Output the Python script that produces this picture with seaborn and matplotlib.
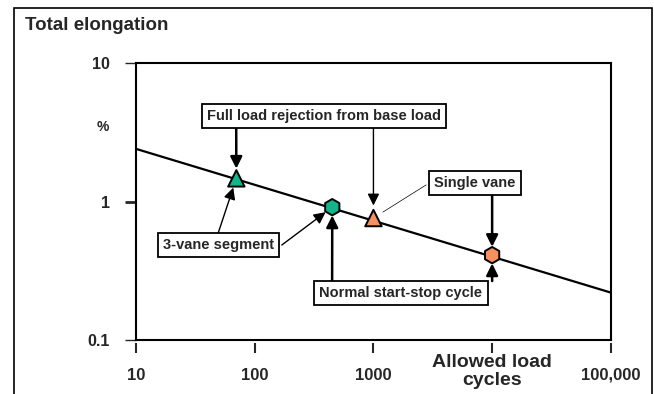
import pandas as pd
import matplotlib.pyplot as plt
import seaborn as sns

# Лінія залежності (кінці) та точки
line_cycles = [10, 100000]
line_elong = [2.4, 0.22]

pt_cycles = [70, 450, 1000, 10000]
pt_elong = [1.47, 0.91, 0.76, 0.41]
pt_shape = ["tri", "hex", "tri", "hex"]
pt_group = ["green", "green", "orange", "orange"]

x_ticks = [10, 100, 1000, 10000, 100000]
x_labels = ["10", "100", "1000", "", "100,000"]
y_ticks = [0.1, 1, 10]
y_labels = ["0.1", "1", "10"]

sns.set_style("white")
plt.rcParams["font.family"] = ["Liberation Sans", "DejaVu Sans"]
plt.rcParams["font.weight"] = "bold"

df_line = pd.DataFrame({"cycles": line_cycles, "elong": line_elong})
df_pts = pd.DataFrame({"cycles": pt_cycles, "elong": pt_elong,
                       "shape": pt_shape, "group": pt_group})

fig = plt.figure(figsize=(6.54, 3.94), dpi=100)
ax = fig.add_axes([0.208, 0.137, 0.726, 0.703])

sns.lineplot(data=df_line, x="cycles", y="elong", color="black", lw=1.6, ax=ax)
sns.scatterplot(data=df_pts, x="cycles", y="elong", hue="group", style="shape",
                palette={"green": "#12B48A", "orange": "#F5915E"},
                markers={"tri": "^", "hex": "h"}, s=140, edgecolor="black",
                linewidth=1.4, legend=False, zorder=5, ax=ax)

ax.set_xscale("log")
ax.set_yscale("log")
ax.set_xlim(10, 100000)
ax.set_ylim(0.1, 10)
ax.set_xlabel("")
ax.set_ylabel("")

for s in ax.spines.values():
    s.set_visible(True)
    s.set_linewidth(1.5)
    s.set_color("black")

ax.set_xticks(x_ticks)
ax.set_xticklabels([])
ax.tick_params(axis="x", which="both", length=0)
ax.minorticks_off()
ax.set_yticks(y_ticks)
ax.set_yticklabels(y_labels, fontsize=11.5, fontweight="bold")
ax.tick_params(axis="y", which="major", length=8, width=1.0, pad=11, left=True)
ax.yaxis.get_major_ticks()[1].tick1line.set_markeredgewidth(2.0)

sec = ax.secondary_xaxis("bottom")
sec.spines["bottom"].set_visible(False)
sec.spines["bottom"].set_position(("outward", 2))
sec.set_xticks(x_ticks)
sec.set_xticklabels(x_labels, fontsize=12, fontweight="bold")
sec.tick_params(axis="x", which="major", length=7, width=1.5, pad=11, bottom=True)
sec.tick_params(axis="x", which="minor", length=0)

ax.text(1e4, -0.05, "Allowed load\ncycles", transform=ax.get_xaxis_transform(),
        ha="center", va="top", fontsize=14, fontweight="bold", linespacing=1.05)
fig.text(25 / 654, 1 - 26 / 394, "Total elongation", ha="left", va="center",
         fontsize=13.5, fontweight="bold")
fig.text(103 / 654, 1 - 127 / 394, "%", ha="center", va="center",
         fontsize=10, fontweight="bold")

# Рамка навколо всього рисунка
fig.add_artist(plt.Rectangle((14 / 654, -0.05), 638 / 654, 1.05 - 8 / 394,
                             transform=fig.transFigure, fill=False,
                             ec="black", lw=1.2))

box = dict(boxstyle="square,pad=0.35", fc="white", ec="black", lw=1.3)
labels = {
    "Full load rejection from base load": (0.396, 0.809),
    "Single vane": (0.714, 0.567),
    "3-vane segment": (0.173, 0.343),
    "Normal start-stop cycle": (0.558, 0.170),
}
for txt, pos in labels.items():
    ax.text(pos[0], pos[1], txt, transform=ax.transAxes, ha="center",
            va="center", fontsize=10.5, fontweight="bold", bbox=box, zorder=6)

# Стрілки: (початок у частках осей, індекс точки, товщина, відступ)
arrows = [
    ((0.211, 0.765), 0, 1.8, 7),
    ((0.500, 0.765), 2, 1.0, 9),
    ((0.750, 0.520), 3, 1.8, 6),
    ((0.173, 0.386), 0, 1.0, 7),
    ((0.307, 0.343), 1, 1.0, 6),
    ((0.413, 0.213), 1, 1.8, 6),
    ((0.750, 0.213), 3, 1.8, 6),
]
for start, i, lw, shr in arrows:
    ax.annotate("", xy=(pt_cycles[i], pt_elong[i]), xycoords="data",
                xytext=start, textcoords="axes fraction",
                arrowprops=dict(arrowstyle="-|>,head_length=0.7,head_width=0.35",
                                color="black", lw=lw, shrinkA=0, shrinkB=shr),
                zorder=4)
ax.annotate("", xy=(pt_cycles[2], pt_elong[2]), xycoords="data",
            xytext=(0.611, 0.560), textcoords="axes fraction",
            arrowprops=dict(arrowstyle="-", color="black", lw=0.5,
                            shrinkA=0, shrinkB=8), zorder=4)

plt.savefig("out.png", dpi=100)
